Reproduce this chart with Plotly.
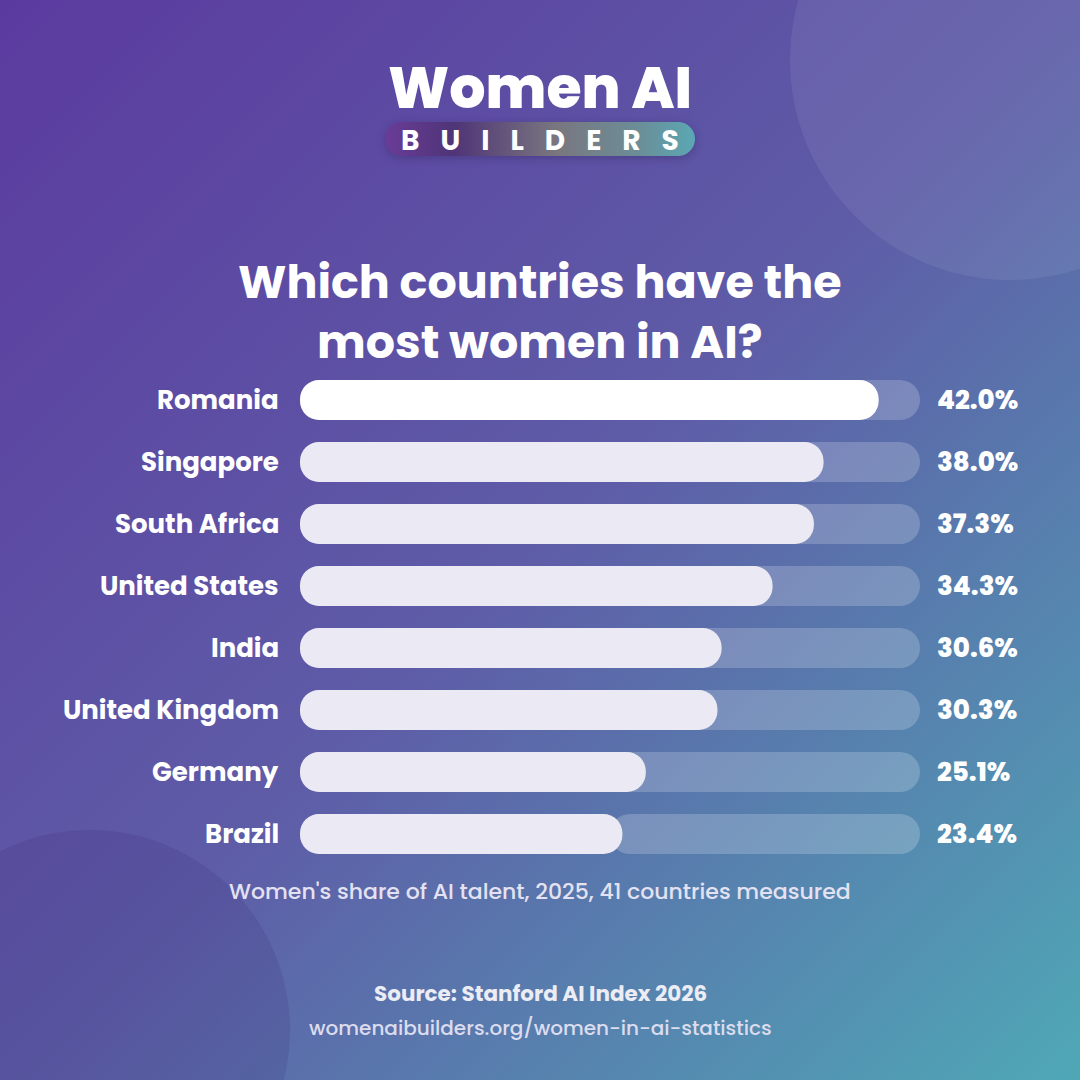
import base64
import plotly.graph_objects as go

# data
countries = ["Romania", "Singapore", "South Africa", "United States",
             "India", "United Kingdom", "Germany", "Brazil"]
shares = [42.0, 38.0, 37.3, 34.3, 30.6, 30.3, 25.1, 23.4]
scale_max = 45

title_lines = ["Which countries have the", "most women in AI?"]
subtitle = "Women's share of AI talent, 2025, 41 countries measured"
source = "Source: Stanford AI Index 2026"
url = "womenaibuilders.org/women-in-ai-statistics"

FONT = "Poppins, Open Sans, sans-serif"
bar_colors = ["#FFFFFF"] + ["#EBEAF4"] * (len(countries) - 1)
track_color = "rgba(255,255,255,0.2)"

# background: diagonal gradient + logo pill
bg_svg = """<svg xmlns='http://www.w3.org/2000/svg' width='1080' height='1080' viewBox='0 0 1080 1080' preserveAspectRatio='none'>
<defs>
<linearGradient id='bg' x1='0' y1='0' x2='1' y2='1'>
<stop offset='0' stop-color='#5B3A9F'/>
<stop offset='0.5' stop-color='#5E5CA7'/>
<stop offset='1' stop-color='#4FA8B6'/>
</linearGradient>
<linearGradient id='pill' x1='0' y1='0' x2='1' y2='0'>
<stop offset='0' stop-color='#6A3C98'/>
<stop offset='0.22' stop-color='#4F3477'/>
<stop offset='0.55' stop-color='#79767F'/>
<stop offset='0.82' stop-color='#6B8E98'/>
<stop offset='1' stop-color='#5AA8B4'/>
</linearGradient>
<filter id='blur' x='-20%' y='-50%' width='140%' height='200%'><feGaussianBlur stdDeviation='4'/></filter>
</defs>
<rect width='1080' height='1080' fill='url(#bg)'/>
<rect x='385' y='124' width='310' height='34' rx='17' fill='#2A1A50' opacity='0.35' filter='url(#blur)'/>
<rect x='385' y='122' width='310' height='34' rx='17' fill='url(#pill)'/>
</svg>"""
bg_src = "data:image/svg+xml;base64," + base64.b64encode(bg_svg.encode()).decode()

fig = go.Figure()

bar_w = 0.645

# track (two halves so both ends get rounded)
fig.add_trace(go.Bar(y=countries, x=[-scale_max / 2] * len(countries),
                     base=[scale_max / 2] * len(countries), orientation="h",
                     width=bar_w, marker=dict(color=track_color, cornerradius="50%", line_width=0),
                     hoverinfo="skip"))
fig.add_trace(go.Bar(y=countries, x=[scale_max / 2] * len(countries),
                     base=[scale_max / 2] * len(countries), orientation="h",
                     width=bar_w, marker=dict(color=track_color, cornerradius="50%", line_width=0),
                     hoverinfo="skip"))

# value bars, left half rounded at 0, right half rounded at the value
fig.add_trace(go.Bar(y=countries, x=[-v * 0.6 for v in shares],
                     base=[v * 0.6 for v in shares], orientation="h",
                     width=bar_w, marker=dict(color=bar_colors, cornerradius="50%", line_width=0),
                     hoverinfo="skip"))
fig.add_trace(go.Bar(y=countries, x=[v * 0.6 for v in shares],
                     base=[v * 0.4 for v in shares], orientation="h",
                     width=bar_w, marker=dict(color=bar_colors, cornerradius="50%", line_width=0),
                     hovertemplate="%{y}: %{customdata:.1f}%<extra></extra>",
                     customdata=shares))

annotations = []
for c, v in zip(countries, shares):
    annotations.append(dict(x=0, y=c, xref="x", yref="y", text=c, showarrow=False,
                            xanchor="right", xshift=-19,
                            font=dict(family=FONT, size=26, color="white", weight=700)))
    annotations.append(dict(x=scale_max, y=c, xref="x", yref="y", text=f"{v:.1f}%",
                            showarrow=False, xanchor="left", xshift=15,
                            font=dict(family=FONT, size=26, color="white", weight=800)))

def ptext(text, ypx, size, color="white", weight=700, height=None):
    return dict(x=0.5, y=1 - ypx / 1080, xref="paper", yref="paper", text=text,
                showarrow=False, xanchor="center", yanchor="middle", height=height,
                font=dict(family=FONT, size=size, color=color, weight=weight))

annotations += [
    ptext("Women AI", 88, 57, weight=800, height=62),
    ptext("B\u2002\u2005U\u2002\u2005I\u2002\u2005L\u2002\u2005D\u2002\u2005E\u2002\u2005R\u2002\u2005S",
          140, 28, weight=700),
    ptext(title_lines[0] + "<br>" + title_lines[1], 312, 46, weight=700),
    ptext(subtitle, 891, 22, color="#E4E2F2", weight=500),
    ptext(source, 993, 21.5, color="#ECECF5", weight=700),
    ptext(url, 1028, 20, color="#DCDCEE", weight=500),
]

shapes = [
    dict(type="circle", xref="paper", yref="paper", layer="below",
         x0=(1010 - 220) / 1080, x1=(1010 + 220) / 1080,
         y0=1 - (60 + 220) / 1080, y1=1 - (60 - 220) / 1080,
         fillcolor="rgba(255,255,255,0.07)", line_width=0),
    dict(type="circle", xref="paper", yref="paper", layer="below",
         x0=(90 - 200) / 1080, x1=(90 + 200) / 1080,
         y0=1 - (1030 + 200) / 1080, y1=1 - (1030 - 200) / 1080,
         fillcolor="rgba(45,25,100,0.13)", line_width=0),
]

fig.update_layout(
    width=1080, height=1080,
    margin=dict(l=0, r=0, t=0, b=0),
    paper_bgcolor="#5E5CA7", plot_bgcolor="rgba(0,0,0,0)",
    barmode="overlay", showlegend=False,
    xaxis=dict(domain=[300 / 1080, 920 / 1080], range=[0, scale_max],
               visible=False, fixedrange=True),
    yaxis=dict(domain=[1 - 865 / 1080, 1 - 369 / 1080], range=[7.5, -0.5],
               type="category", categoryarray=countries, visible=False, fixedrange=True),
    images=[dict(source=bg_src, xref="paper", yref="paper", x=0, y=1,
                 sizex=1, sizey=1, xanchor="left", yanchor="top",
                 sizing="stretch", layer="below")],
    shapes=shapes,
    annotations=annotations,
)

fig.write_html("out.html", config={"displayModeBar": False},
               post_script="document.body.style.margin='0';document.body.style.overflow='hidden';")
